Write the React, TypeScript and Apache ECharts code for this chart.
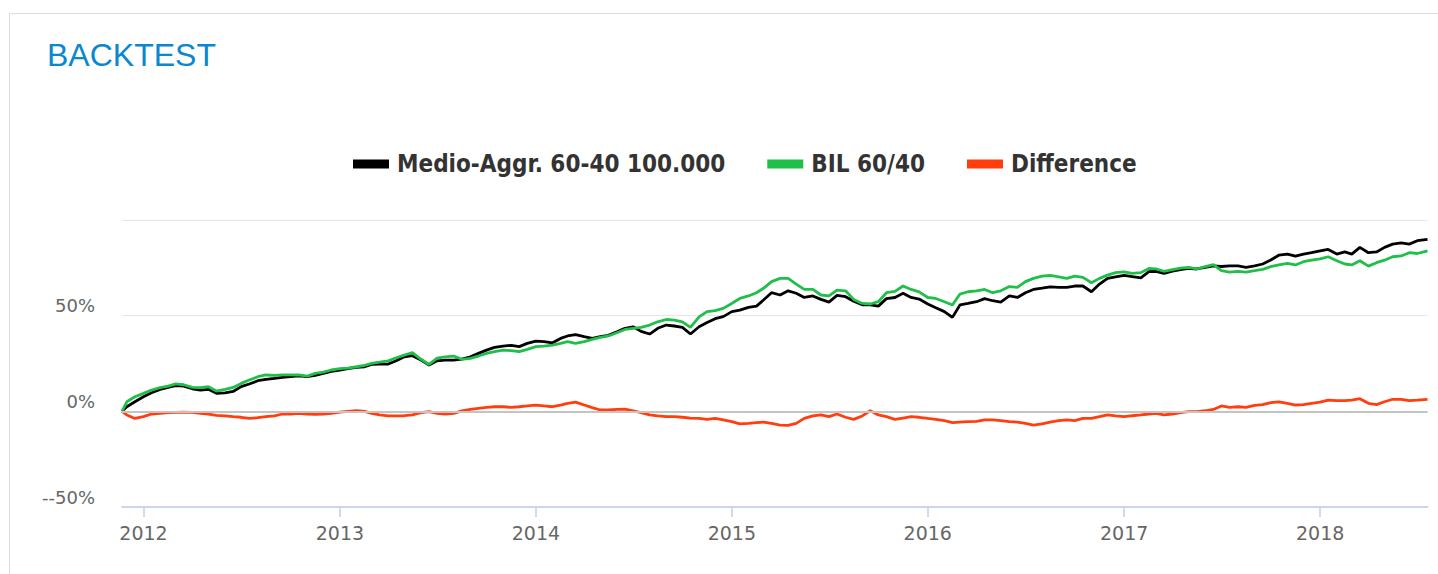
import React, { useEffect, useRef } from "react";
import * as echarts from "echarts";

const dates = [
  "2011-11-22", "2011-12-01", "2011-12-16",
  "2012-01-01", "2012-01-16", "2012-02-01", "2012-02-16", "2012-03-01", "2012-03-16",
  "2012-04-01", "2012-04-16", "2012-05-01", "2012-05-16", "2012-06-01", "2012-06-16",
  "2012-07-01", "2012-07-16", "2012-08-01", "2012-08-16", "2012-09-01", "2012-09-16",
  "2012-10-01", "2012-10-16", "2012-11-01", "2012-11-16", "2012-12-01", "2012-12-16",
  "2013-01-01", "2013-01-16", "2013-02-01", "2013-02-16", "2013-03-01", "2013-03-16",
  "2013-04-01", "2013-04-16", "2013-05-01", "2013-05-16", "2013-06-01", "2013-06-16",
  "2013-07-01", "2013-07-16", "2013-08-01", "2013-08-16", "2013-09-01", "2013-09-16",
  "2013-10-01", "2013-10-16", "2013-11-01", "2013-11-16", "2013-12-01", "2013-12-16",
  "2014-01-01", "2014-01-16", "2014-02-01", "2014-02-16", "2014-03-01", "2014-03-16",
  "2014-04-01", "2014-04-16", "2014-05-01", "2014-05-16", "2014-06-01", "2014-06-16",
  "2014-07-01", "2014-07-16", "2014-08-01", "2014-08-16", "2014-09-01", "2014-09-16",
  "2014-10-01", "2014-10-16", "2014-11-01", "2014-11-16", "2014-12-01", "2014-12-16",
  "2015-01-01", "2015-01-16", "2015-02-01", "2015-02-16", "2015-03-01", "2015-03-16",
  "2015-04-01", "2015-04-16", "2015-05-01", "2015-05-16", "2015-06-01", "2015-06-16",
  "2015-07-01", "2015-07-16", "2015-08-01", "2015-08-16", "2015-09-01", "2015-09-16",
  "2015-10-01", "2015-10-16", "2015-11-01", "2015-11-16", "2015-12-01", "2015-12-16",
  "2016-01-01", "2016-01-16", "2016-02-01", "2016-02-16", "2016-03-01", "2016-03-16",
  "2016-04-01", "2016-04-16", "2016-05-01", "2016-05-16", "2016-06-01", "2016-06-16",
  "2016-07-01", "2016-07-16", "2016-08-01", "2016-08-16", "2016-09-01", "2016-09-16",
  "2016-10-01", "2016-10-16", "2016-11-01", "2016-11-16", "2016-12-01", "2016-12-16",
  "2017-01-01", "2017-01-16", "2017-02-01", "2017-02-16", "2017-03-01", "2017-03-16",
  "2017-04-01", "2017-04-16", "2017-05-01", "2017-05-16", "2017-06-01", "2017-06-16",
  "2017-07-01", "2017-07-16", "2017-08-01", "2017-08-16", "2017-09-01", "2017-09-16",
  "2017-10-01", "2017-10-16", "2017-11-01", "2017-11-16", "2017-12-01", "2017-12-16",
  "2018-01-01", "2018-01-16", "2018-02-01", "2018-02-16", "2018-03-01", "2018-03-16",
  "2018-04-01", "2018-04-16", "2018-05-01", "2018-05-16", "2018-06-01", "2018-06-16",
  "2018-07-01", "2018-07-20",
];

const medioAggr = [
  0, 2.4, 5.0,
  7.6, 9.7, 11.5, 12.5, 13.4, 13.2,
  11.8, 11.1, 11.5, 9.4, 9.7, 10.4,
  12.9, 14.3, 16.0, 16.7, 17.2, 17.8,
  18.1, 18.5, 18.1, 18.8, 19.8, 20.9,
  21.6, 22.3, 23.0, 23.3, 24.5, 24.7,
  24.7, 26.4, 28.5, 29.1, 26.8, 24.2,
  26.4, 26.8, 26.8, 27.3, 28.5, 30.3,
  32.0, 33.4, 34.1, 34.5, 33.8, 35.5,
  36.7, 36.4, 35.8, 38.1, 39.4, 40.1,
  39.0, 38.1, 39.0, 39.7, 41.6, 43.4,
  44.2, 41.8, 40.4, 43.4, 45.1, 44.6,
  43.9, 40.4, 44.2, 46.4, 48.4, 49.5,
  52.1, 52.9, 54.3, 55.0, 58.2, 62.0,
  60.8, 63.0, 61.7, 59.5, 60.3, 58.5,
  57.1, 60.6, 59.9, 57.5, 55.7, 55.6,
  55.0, 58.9, 59.5, 61.7, 59.5, 58.7,
  56.1, 54.1, 52.1, 49.1, 55.6, 56.4,
  57.3, 58.9, 57.8, 57.1, 60.3, 59.5,
  62.0, 63.7, 64.4, 65.1, 64.8, 64.8,
  65.5, 65.5, 62.5, 66.5, 69.5, 70.3,
  71.1, 70.4, 69.8, 73.0, 73.1, 72.1,
  73.3, 74.1, 74.7, 74.4, 75.2, 76.0,
  75.7, 76.0, 76.0, 75.3, 76.0, 77.0,
  79.1, 81.6, 82.2, 81.1, 82.2, 82.9,
  83.8, 84.6, 82.2, 83.3, 82.2, 85.7,
  82.9, 83.3, 85.7, 87.4, 88.1, 87.4,
  89.2, 89.9,
];

const bil6040 = [
  0, 5.0, 7.6,
  9.4, 11.1, 12.4, 13.2, 14.3, 13.9,
  12.5, 12.4, 12.9, 10.6, 11.5, 12.5,
  14.6, 16.4, 18.1, 19.0, 18.8, 19.1,
  19.1, 19.0, 18.4, 19.8, 20.5, 21.6,
  22.3, 22.6, 23.3, 24.0, 25.1, 25.7,
  26.4, 28.0, 29.4, 30.7, 27.2, 24.5,
  27.8, 28.5, 28.9, 27.2, 27.7, 28.9,
  30.3, 31.2, 32.0, 31.7, 31.2, 32.4,
  33.8, 34.1, 34.6, 35.5, 36.4, 35.5,
  36.4, 37.6, 38.7, 39.4, 41.1, 42.8,
  43.4, 43.9, 45.1, 46.8, 48.0, 47.7,
  46.8, 43.9, 49.4, 52.1, 52.6, 53.8,
  56.4, 59.0, 60.3, 62.0, 64.3, 67.8,
  69.5, 69.5, 66.5, 63.7, 63.7, 60.8,
  60.3, 63.4, 63.0, 58.5, 56.4, 56.1,
  57.3, 62.0, 62.7, 65.5, 63.7, 62.4,
  59.5, 59.0, 57.3, 55.6, 61.3, 62.5,
  63.0, 63.7, 62.0, 63.0, 65.2, 64.8,
  67.8, 69.5, 70.7, 71.0, 70.3, 69.5,
  70.7, 70.0, 67.2, 69.5, 71.2, 72.5,
  72.9, 72.1, 72.5, 74.7, 74.5, 73.2,
  74.1, 74.9, 75.2, 74.4, 75.6, 76.7,
  73.5, 72.8, 73.1, 72.8, 73.5, 74.2,
  75.6, 76.5, 77.3, 76.5, 78.2, 79.0,
  79.7, 80.8, 78.7, 77.0, 76.5, 78.7,
  75.9, 77.7, 79.0, 80.8, 81.2, 82.9,
  82.5, 83.9,
];

const difference = [
  0, -1.9, -3.7,
  -2.8, -1.4, -1.1, -0.7, -0.5, -0.4,
  -0.5, -1.1, -1.4, -2.1, -2.4, -2.8,
  -3.1, -3.7, -3.3, -2.8, -2.4, -1.4,
  -1.4, -1.1, -1.4, -1.6, -1.4, -1.1,
  -0.4, 0, 0.3, 0, -1.1, -1.9,
  -2.4, -2.4, -2.3, -1.8, -0.7, -0.2,
  -1.1, -1.4, -1.1, 0.2, 1.0, 1.6,
  2.1, 2.4, 2.4, 2.1, 2.4, 2.8,
  3.3, 2.8, 2.4, 3.3, 4.2, 4.8,
  3.3, 1.9, 0.7, 0.7, 1.0, 1.2,
  0.3, -0.7, -1.9, -2.4, -2.8, -2.8,
  -3.1, -3.5, -3.7, -4.2, -3.7, -4.5,
  -5.4, -6.6, -6.3, -5.9, -5.6, -6.3,
  -7.2, -7.3, -6.3, -3.7, -2.4, -1.8,
  -2.8, -1.4, -3.1, -4.2, -2.4, 0.3,
  -1.9, -2.8, -4.2, -3.5, -2.8, -3.1,
  -3.7, -4.2, -4.9, -5.9, -5.6, -5.4,
  -5.2, -4.5, -4.5, -4.9, -5.4, -5.6,
  -6.3, -7.2, -6.6, -5.6, -4.9, -4.5,
  -4.9, -3.7, -3.7, -2.8, -1.9, -2.4,
  -2.8, -2.3, -1.9, -1.4, -1.1, -1.8,
  -1.4, -0.7, -0.2, -0.2, 0.3, 1.0,
  2.8, 2.1, 2.4, 2.1, 3.1, 3.5,
  4.5, 5.0, 4.2, 3.3, 3.5, 4.2,
  4.8, 5.9, 5.6, 5.6, 5.9, 6.6,
  4.2, 3.5, 5.0, 6.3, 6.3, 5.6,
  5.9, 6.3,
];

const seriesNames = ["Medio-Aggr. 60-40 100.000", "BIL 60/40", "Difference"];
const seriesColors = ["#000000", "#1fbf4a", "#ff3d0d"];

const xTickDates = ["2012-01-01", "2013-01-01", "2014-01-01", "2015-01-01", "2016-01-01", "2017-01-01", "2018-01-01"];
const xTickLabels = ["2012", "2013", "2014", "2015", "2016", "2017", "2018"];
const yTickValues = [-50, 0, 50, 100];
const yTickLabels = ["--50%", "0%", "50%", ""];

const toTs = (d: string) => {
  const [y, m, dd] = d.split("-").map(Number);
  return Date.UTC(y, m - 1, dd);
};

export default function App() {
  const ref = useRef<HTMLDivElement>(null);

  useEffect(() => {
    if (!ref.current) return;
    const chart = echarts.init(ref.current, null, { renderer: "svg" });
    const tickTs = xTickDates.map(toTs);
    const valueSets = [medioAggr, bil6040, difference];

    const option: any = {
      animation: false,
      backgroundColor: "#ffffff",
      title: {
        text: "BACKTEST",
        left: 47,
        top: 39,
        padding: 0,
        textStyle: {
          fontFamily: "'Liberation Sans', Arial, sans-serif",
          fontSize: 32,
          fontWeight: "normal",
          color: "#0a88cf",
        },
      },
      graphic: [
        {
          type: "rect",
          shape: { x: 9.5, y: 13.5, width: 1500, height: 700 },
          style: { fill: "none", stroke: "#dcdcdc", lineWidth: 1 },
          silent: true,
          z: -1,
        },
      ],
      legend: {
        left: 353,
        top: 152,
        icon: "rect",
        itemWidth: 36,
        itemHeight: 9,
        itemGap: 42,
        padding: 0,
        data: seriesNames,
        textStyle: {
          fontFamily: "'DejaVu Sans Condensed', 'DejaVu Sans', sans-serif",
          fontWeight: "bold",
          fontSize: 24,
          color: "#333333",
          padding: [0, 0, 0, 3],
        },
      },
      grid: { left: 122, right: 10.5, top: 220, bottom: 67, containLabel: false },
      xAxis: {
        type: "value",
        min: toTs(dates[0]),
        max: toTs(dates[dates.length - 1]),
        scale: true,
        z: 5,
        axisLine: { show: true, onZero: false, lineStyle: { color: "#ccd6eb", width: 2 } },
        axisTick: {
          show: true,
          inside: false,
          length: 10,
          customValues: tickTs,
          lineStyle: { color: "#c3cfe6", width: 1.5 },
        },
        axisLabel: {
          customValues: tickTs,
          margin: 16,
          fontFamily: "'DejaVu Sans', sans-serif",
          fontSize: 19,
          color: "#666666",
          formatter: (v: number) => {
            const i = tickTs.indexOf(v);
            return i >= 0 ? xTickLabels[i] : "";
          },
        },
        splitLine: { show: false },
      },
      yAxis: {
        type: "value",
        min: -50,
        max: 100,
        interval: 50,
        axisLine: { show: false },
        axisTick: { show: false },
        axisLabel: {
          margin: 27,
          fontFamily: "'DejaVu Sans', sans-serif",
          fontSize: 18,
          color: "#666666",
          verticalAlign: "bottom",
          lineHeight: 20,
          formatter: (v: number) => {
            const i = yTickValues.indexOf(v);
            return i >= 0 ? yTickLabels[i] : "";
          },
        },
        splitLine: {
          show: true,
          lineStyle: { color: ["rgba(0,0,0,0)", "#e6e6e6", "#e6e6e6", "#e6e6e6"], width: 1 },
        },
      },
      series: seriesNames.map((name, si) => {
        const s: any = {
          name,
          type: "line",
          showSymbol: false,
          symbol: "none",
          color: seriesColors[si],
          lineStyle: { color: seriesColors[si], width: 2.8 },
          data: dates.map((d, i) => [toTs(d), valueSets[si][i]]),
          z: 2 + si,
        };
        if (si === 0) {
          s.markLine = {
            silent: true,
            symbol: "none",
            label: { show: false },
            lineStyle: { color: "#c4c4c4", width: 2, type: "solid" },
            data: [{ yAxis: 0 }],
          };
        }
        return s;
      }),
    };

    chart.setOption(option);
    return () => chart.dispose();
  }, []);

  return (
    <div
      ref={ref}
      style={{ position: "fixed", left: 0, top: 0, width: 1438, height: 574, background: "#fff" }}
    />
  );
}
